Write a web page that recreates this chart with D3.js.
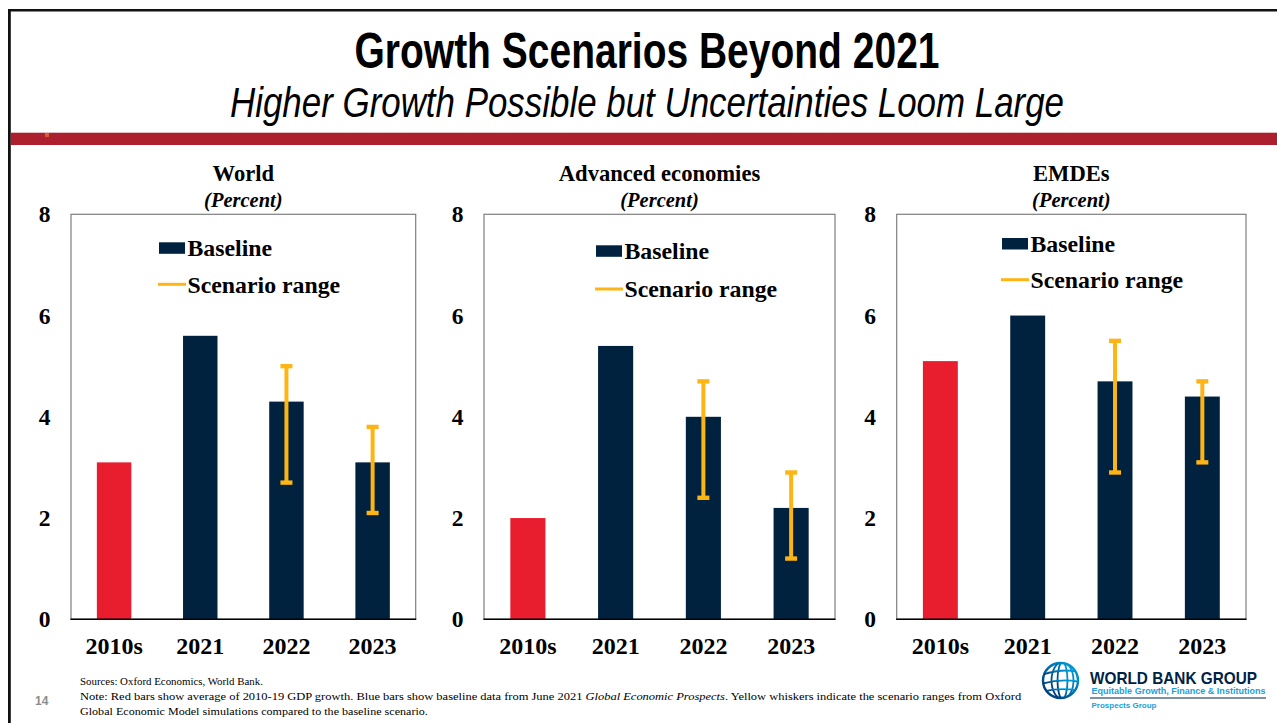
<!DOCTYPE html>
<html>
<head>
<meta charset="utf-8">
<script src="https://cdn.jsdelivr.net/npm/d3@7"></script>
<style>
  html, body { margin: 0; padding: 0; background: #fff; }
  svg { display: block; }
</style>
</head>
<body>
<svg id="chart" width="1277" height="723"></svg>
<script>
// ---- Data ----
const categories = ["2010s", "2021", "2022", "2023"];
const panelTitles = ["World", "Advanced economies", "EMDEs"];
const unitLabel = "(Percent)";
const yTicks = [0, 2, 4, 6, 8];

const worldValues    = [3.1, 5.6, 4.3, 3.1];
const advancedValues = [2.0, 5.4, 4.0, 2.2];
const emdeValues     = [5.1, 6.0, 4.7, 4.4];

const worldRangeLow     = [null, null, 2.7, 2.1];
const worldRangeHigh    = [null, null, 5.0, 3.8];
const advancedRangeLow  = [null, null, 2.4, 1.2];
const advancedRangeHigh = [null, null, 4.7, 2.9];
const emdeRangeLow      = [null, null, 2.9, 3.1];
const emdeRangeHigh     = [null, null, 5.5, 4.7];

const legendLabels = ["Baseline", "Scenario range"];

// ---- Styling ----
const NAVY = "#00223f", RED = "#e81e2f", GOLD = "#fdb515", BAND = "#ad1f2e";
const SERIF = "'Liberation Serif', 'Times New Roman', serif";
const NARROW = "'Liberation Sans Narrow', 'Arial Narrow', 'Liberation Sans', Arial, sans-serif";

const svg = d3.select("#chart");

// Page frame
svg.append("rect").attr("x", 8).attr("y", 9).attr("width", 1277).attr("height", 2.5).attr("fill", "#111");
svg.append("rect").attr("x", 8).attr("y", 9).attr("width", 2.8).attr("height", 723).attr("fill", "#111");
svg.append("rect").attr("x", 10.8).attr("y", 132.7).attr("width", 1270).attr("height", 12.3).attr("fill", BAND);
svg.append("rect").attr("x", 45).attr("y", 133).attr("width", 4).attr("height", 4).attr("fill", "#d9722e").attr("opacity", 0.8);

// Slide heading
svg.append("text")
  .attr("x", 647).attr("y", 68)
  .attr("text-anchor", "middle")
  .attr("font-family", NARROW)
  .attr("font-weight", "bold").attr("font-size", 50)
  .attr("textLength", 585).attr("lengthAdjust", "spacingAndGlyphs")
  .text("Growth Scenarios Beyond 2021");
svg.append("text")
  .attr("x", 647).attr("y", 117)
  .attr("text-anchor", "middle")
  .attr("font-family", NARROW)
  .attr("font-style", "italic").attr("font-size", 42)
  .attr("textLength", 834).attr("lengthAdjust", "spacingAndGlyphs")
  .text("Higher Growth Possible but Uncertainties Loom Large");

// ---- Panels ----
const panels = [
  { title: panelTitles[0], values: worldValues, low: worldRangeLow, high: worldRangeHigh,
    x0: 71, x1: 415.7, legendX: 159, legendY: 242.3, lineY: 284.3 },
  { title: panelTitles[1], values: advancedValues, low: advancedRangeLow, high: advancedRangeHigh,
    x0: 484, x1: 835, legendX: 596, legendY: 245.3, lineY: 289 },
  { title: panelTitles[2], values: emdeValues, low: emdeRangeLow, high: emdeRangeHigh,
    x0: 896.7, x1: 1246, legendX: 1002, legendY: 238, lineY: 279.7 }
];
const yTop = 214.3, yBottom = 619.3;

panels.forEach(p => {
  const g = svg.append("g");
  const x = d3.scaleBand().domain(categories).range([p.x0, p.x1])
    .paddingInner(0.6).paddingOuter(0.3);
  const y = d3.scaleLinear().domain([0, 8]).range([yBottom, yTop]);

  // Plot frame
  g.append("rect")
    .attr("x", p.x0).attr("y", yTop)
    .attr("width", p.x1 - p.x0).attr("height", yBottom - yTop)
    .attr("fill", "none").attr("stroke", "#7f7f7f").attr("stroke-width", 1.2);

  // Titles
  const cx = (p.x0 + p.x1) / 2;
  g.append("text").attr("x", cx).attr("y", 181).attr("text-anchor", "middle")
    .attr("font-family", SERIF).attr("font-weight", "bold").attr("font-size", 22.6)
    .text(p.title);
  g.append("text").attr("x", cx).attr("y", 207).attr("text-anchor", "middle")
    .attr("font-family", SERIF).attr("font-weight", "bold").attr("font-style", "italic")
    .attr("font-size", 20.5).text(unitLabel);

  // Bars
  g.selectAll("rect.bar").data(p.values).join("rect")
    .attr("class", "bar")
    .attr("x", (d, i) => x(categories[i]))
    .attr("y", d => y(d))
    .attr("width", x.bandwidth())
    .attr("height", d => y(0) - y(d))
    .attr("fill", (d, i) => i === 0 ? RED : NAVY);

  // Scenario whiskers
  const ranges = categories.map((c, i) => ({ c, lo: p.low[i], hi: p.high[i] }))
    .filter(r => r.lo != null && r.hi != null);
  const wg = g.selectAll("g.whisker").data(ranges).join("g").attr("class", "whisker");
  wg.append("line")
    .attr("x1", r => x(r.c) + x.bandwidth() / 2).attr("x2", r => x(r.c) + x.bandwidth() / 2)
    .attr("y1", r => y(r.hi)).attr("y2", r => y(r.lo))
    .attr("stroke", GOLD).attr("stroke-width", 4);
  ["hi", "lo"].forEach(k => {
    wg.append("rect")
      .attr("x", r => x(r.c) + x.bandwidth() / 2 - 6)
      .attr("y", r => y(r[k]) - 2.2)
      .attr("width", 12).attr("height", 4.4)
      .attr("fill", GOLD);
  });

  // Axes
  const yAxis = d3.axisLeft(y).tickValues(yTicks).tickSize(0).tickPadding(21).tickFormat(d3.format("d"));
  const ya = g.append("g").attr("transform", `translate(${p.x0},0)`).call(yAxis);
  ya.select(".domain").remove();
  ya.selectAll("text").attr("font-family", SERIF).attr("font-weight", "bold")
    .attr("font-size", 23.5).attr("fill", "#000").attr("text-anchor", "middle").attr("x", -26.5);

  const xAxis = d3.axisBottom(x).tickSize(0).tickPadding(18);
  const xa = g.append("g").attr("transform", `translate(0,${yBottom})`).call(xAxis);
  xa.select(".domain").remove();
  xa.selectAll("text").attr("font-family", SERIF).attr("font-weight", "bold")
    .attr("font-size", 24).attr("fill", "#000");

  g.append("line").attr("x1", p.x0 - 0.5).attr("x2", p.x1 + 0.5)
    .attr("y1", yBottom).attr("y2", yBottom)
    .attr("stroke", "#000").attr("stroke-width", 1.6);

  // Legend
  g.append("rect").attr("x", p.legendX).attr("y", p.legendY)
    .attr("width", 26).attr("height", 11.5).attr("fill", NAVY);
  g.append("text").attr("x", p.legendX + 28.5).attr("y", p.legendY + 14)
    .attr("font-family", SERIF).attr("font-weight", "bold").attr("font-size", 23.8)
    .text(legendLabels[0]);
  g.append("line").attr("x1", p.legendX - 1).attr("x2", p.legendX + 27)
    .attr("y1", p.lineY).attr("y2", p.lineY)
    .attr("stroke", GOLD).attr("stroke-width", 3);
  g.append("text").attr("x", p.legendX + 28.5).attr("y", p.lineY + 8.3)
    .attr("font-family", SERIF).attr("font-weight", "bold").attr("font-size", 23.8)
    .text(legendLabels[1]);
});

// ---- Footer notes ----
function fitLine(y, target, build) {
  const t = svg.append("text").attr("x", 0).attr("y", 0)
    .attr("font-family", SERIF).attr("font-size", 10.4).attr("fill", "#000");
  build(t);
  const w = t.node().getComputedTextLength();
  t.attr("transform", `translate(80,${y}) scale(${target / w},1)`);
}
fitLine(684.5, 183, t => t.text("Sources: Oxford Economics, World Bank."));
fitLine(700, 942, t => {
  t.append("tspan").text("Note: Red bars show average of 2010-19 GDP growth. Blue bars show baseline data from June 2021 ");
  t.append("tspan").attr("font-style", "italic").text("Global Economic Prospects");
  t.append("tspan").text(". Yellow whiskers indicate the scenario ranges from Oxford");
});
fitLine(714.5, 348, t => t.text("Global Economic Model simulations compared to the baseline scenario."));

svg.append("text").attr("x", 35).attr("y", 704.5)
  .attr("font-family", "'Liberation Sans', Arial, sans-serif").attr("font-weight", "bold")
  .attr("font-size", 12).attr("fill", "#8c8c8c").text("14");

// ---- Logo ----
const defs = svg.append("defs");
const grad = defs.append("linearGradient").attr("id", "globeGrad")
  .attr("x1", "0%").attr("y1", "100%").attr("x2", "100%").attr("y2", "0%");
grad.append("stop").attr("offset", "0%").attr("stop-color", "#002f6c");
grad.append("stop").attr("offset", "100%").attr("stop-color", "#00a6e3");
defs.append("clipPath").attr("id", "globeClip")
  .append("circle").attr("cx", 1060.5).attr("cy", 680.5).attr("r", 17.5);

const logo = svg.append("g");
const gcx = 1060.5, gcy = 680.5, gr = 17.5;
logo.append("circle").attr("cx", gcx).attr("cy", gcy).attr("r", gr)
  .attr("fill", "none").attr("stroke", "url(#globeGrad)").attr("stroke-width", 2.4);
const inner = logo.append("g").attr("clip-path", "url(#globeClip)")
  .attr("fill", "none").attr("stroke", "url(#globeGrad)").attr("stroke-width", 1.8);
[5, 11].forEach(rx => inner.append("ellipse").attr("cx", gcx + 2).attr("cy", gcy).attr("rx", rx).attr("ry", gr + 1));
inner.append("path").attr("d", `M${gcx - gr},${gcy - 6} Q${gcx},${gcy - 12} ${gcx + gr},${gcy - 9}`);
inner.append("path").attr("d", `M${gcx - gr},${gcy + 3} Q${gcx},${gcy - 2} ${gcx + gr},${gcy + 1}`);
inner.append("path").attr("d", `M${gcx - gr},${gcy + 11} Q${gcx},${gcy + 7} ${gcx + gr},${gcy + 10}`);

logo.append("text").attr("x", 1090).attr("y", 684.3)
  .attr("font-family", "'Liberation Sans', Arial, sans-serif").attr("font-weight", "bold")
  .attr("font-size", 17).attr("fill", "#002244")
  .attr("textLength", 167).attr("lengthAdjust", "spacingAndGlyphs")
  .text("WORLD BANK GROUP");
logo.append("text").attr("x", 1091.5).attr("y", 694.3)
  .attr("font-family", "'Liberation Sans', Arial, sans-serif").attr("font-weight", "bold")
  .attr("font-size", 9.2).attr("fill", "#1aa0db")
  .attr("textLength", 174).attr("lengthAdjust", "spacingAndGlyphs")
  .text("Equitable Growth, Finance & Institutions");
logo.append("line").attr("x1", 1090).attr("x2", 1266).attr("y1", 698).attr("y2", 698)
  .attr("stroke", "#002244").attr("stroke-width", 1);
logo.append("text").attr("x", 1091.5).attr("y", 708.3)
  .attr("font-family", "'Liberation Sans', Arial, sans-serif").attr("font-weight", "bold")
  .attr("font-size", 7.8).attr("fill", "#1aa0db")
  .attr("textLength", 65).attr("lengthAdjust", "spacingAndGlyphs")
  .text("Prospects Group");
</script>
</body>
</html>
